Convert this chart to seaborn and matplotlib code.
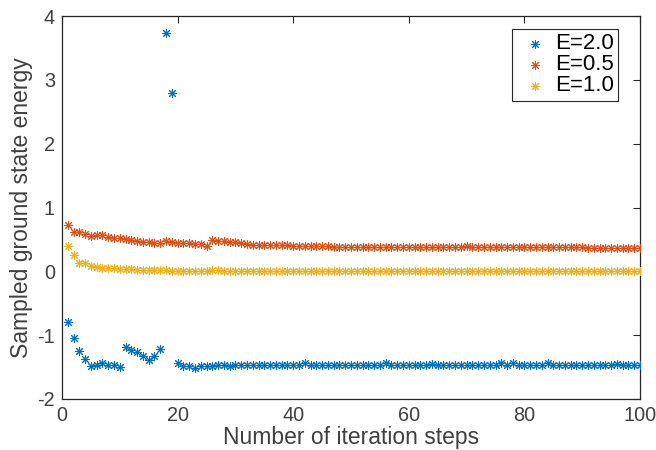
import numpy as np
import pandas as pd
import matplotlib
matplotlib.use("Agg")
import matplotlib.pyplot as plt
import seaborn as sns

steps = list(range(1, 101))

e20 = [-0.79, -1.05, -1.25, -1.38, -1.48, -1.46, -1.43, -1.47, -1.47, -1.50,
       -1.19, -1.24, -1.26, -1.32, -1.39, -1.32, -1.22, 3.73, 2.79, -1.43,
       -1.49, -1.49, -1.51, -1.49, -1.48, -1.48, -1.47, -1.47, -1.48, -1.47,
       -1.47, -1.47, -1.47, -1.47, -1.47, -1.47, -1.47, -1.47, -1.47, -1.47,
       -1.47, -1.44, -1.47, -1.47, -1.47, -1.47, -1.47, -1.47, -1.47, -1.47,
       -1.47, -1.47, -1.47, -1.47, -1.47, -1.44, -1.47, -1.47, -1.47, -1.47,
       -1.47, -1.47, -1.47, -1.45, -1.47, -1.47, -1.47, -1.47, -1.47, -1.47,
       -1.47, -1.47, -1.47, -1.47, -1.47, -1.44, -1.47, -1.44, -1.47, -1.47,
       -1.47, -1.47, -1.47, -1.44, -1.47, -1.47, -1.47, -1.47, -1.47, -1.47,
       -1.47, -1.47, -1.47, -1.47, -1.47, -1.45, -1.47, -1.47, -1.47, -1.47]

e05 = [0.73, 0.62, 0.62, 0.59, 0.555, 0.565, 0.565, 0.545, 0.53, 0.525,
       0.50, 0.49, 0.48, 0.46, 0.455, 0.445, 0.445, 0.48, 0.46, 0.45,
       0.445, 0.445, 0.43, 0.43, 0.40, 0.495, 0.48, 0.47, 0.46, 0.46,
       0.445, 0.43, 0.42, 0.415, 0.41, 0.41, 0.41, 0.405, 0.41, 0.40,
       0.40, 0.40, 0.395, 0.39, 0.39, 0.39, 0.385, 0.385, 0.385, 0.38,
       0.38, 0.38, 0.38, 0.38, 0.38, 0.38, 0.375, 0.375, 0.375, 0.375,
       0.375, 0.375, 0.375, 0.375, 0.375, 0.375, 0.375, 0.375, 0.38, 0.39,
       0.375, 0.375, 0.375, 0.375, 0.375, 0.375, 0.375, 0.375, 0.375, 0.375,
       0.375, 0.375, 0.375, 0.375, 0.375, 0.375, 0.375, 0.375, 0.375, 0.375,
       0.37, 0.37, 0.37, 0.37, 0.37, 0.37, 0.37, 0.37, 0.37, 0.37]

e10 = [0.39, 0.26, 0.135, 0.125, 0.09, 0.065, 0.06, 0.05, 0.045, 0.037,
       0.03, 0.03, 0.025, 0.02, 0.02, 0.015, 0.015, 0.015, 0.01, 0.01,
       0.01, 0.01, 0.01, 0.01, 0.01, 0.02, 0.015, 0.005, 0.005, 0.005,
       0.005, 0.0, 0.0, 0.0, 0.0, 0.0, 0.0, 0.0, 0.0, 0.0,
       0.0, 0.0, 0.0, 0.0, 0.0, 0.0, 0.0, 0.0, 0.0, 0.0,
       0.0, 0.0, 0.0, 0.0, 0.0, 0.0, 0.0, 0.0, 0.0, 0.0,
       0.0, 0.0, 0.0, 0.0, 0.0, 0.0, 0.0, 0.0, 0.0, 0.0,
       0.0, 0.0, 0.0, 0.0, 0.0, 0.0, 0.0, 0.0, 0.0, 0.0,
       0.0, 0.0, 0.0, 0.0, 0.0, 0.0, 0.0, 0.0, 0.0, 0.0,
       0.0, 0.0, 0.0, 0.0, 0.0, 0.0, 0.0, 0.0, 0.0, 0.0]

labels = ["E=2.0", "E=0.5", "E=1.0"]
colors = ["#0072BD", "#D95319", "#EDB120"]
x_ticks = [0, 20, 40, 60, 80, 100]
y_ticks = [-2, -1, 0, 1, 2, 3, 4]

df = pd.DataFrame({
    "step": steps * 3,
    "energy": e20 + e05 + e10,
    "series": [labels[0]] * 100 + [labels[1]] * 100 + [labels[2]] * 100,
})

sns.set_style("white")
plt.rcParams["font.family"] = ["Liberation Sans", "DejaVu Sans"]
plt.rcParams["axes.unicode_minus"] = False
axcol = "#262626"
txtcol = "#404040"

fig = plt.figure(figsize=(6.56, 4.5), dpi=100)
ax = fig.add_axes([62 / 656, 1 - 399 / 450, 578 / 656, 383 / 450])

for lab, col in zip(labels, colors):
    sub = df[df["series"] == lab]
    sns.scatterplot(data=sub, x="step", y="energy", ax=ax, color=col,
                    marker=(8, 2, 0), s=32, linewidth=0.75, label=lab,
                    edgecolor=col, zorder=3)

ax.set_xlim(0, 100)
ax.set_ylim(-2, 4)
ax.set_xticks(x_ticks)
ax.set_yticks(y_ticks)
ax.tick_params(direction="in", length=5, width=0.8, colors=axcol,
               labelcolor=txtcol, labelsize=14.3, top=True, right=True,
               pad=5)
for sp in ax.spines.values():
    sp.set_color(axcol)
    sp.set_linewidth(0.9)
ax.set_xlabel("Number of iteration steps", fontsize=16.5, color=txtcol, labelpad=1)
ax.set_ylabel("Sampled ground state energy", fontsize=16.5, color=txtcol, labelpad=3)

leg = ax.legend(loc="upper right", bbox_to_anchor=(618 / 656, 1 - 29 / 450),
                bbox_transform=fig.transFigure, fontsize=16, frameon=True,
                fancybox=False, edgecolor=axcol, framealpha=1,
                handletextpad=0.1, borderpad=0.2, labelspacing=0.0,
                handlelength=1.6, markerscale=1.0, borderaxespad=0)
leg.get_frame().set_linewidth(0.8)
for t in leg.get_texts():
    t.set_color("#000000")

fig.savefig("out.png", dpi=100)
